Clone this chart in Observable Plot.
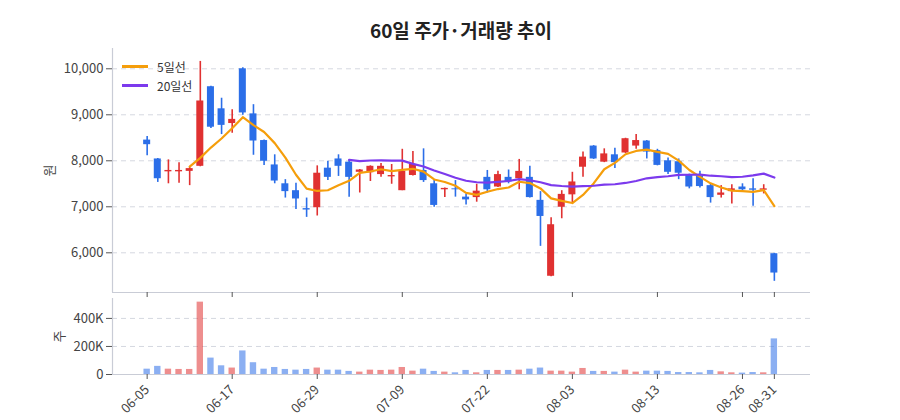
<!DOCTYPE html>
<html>
<head>
<meta charset="utf-8">
<script src="https://cdn.jsdelivr.net/npm/d3@7"></script>
<script src="https://cdn.jsdelivr.net/npm/@observablehq/plot@0.6"></script>
<style>
  html, body { margin: 0; padding: 0; background: #fff; }
  body { width: 900px; height: 420px; position: relative; overflow: hidden; font-family: "Noto Sans CJK KR", "Noto Sans", sans-serif; }
  #title { position: absolute; left: 11px; width: 900px; top: 16px; text-align: center; font-size: 19px; font-weight: 700; color: #222; }
  #price { position: absolute; left: 0; top: 40px; }
  #vol { position: absolute; left: 0; top: 295px; }
  .legend { position: absolute; left: 122px; font-size: 12px; color: #333; display: flex; align-items: center; }
  .legend span.sw { display: inline-block; width: 26px; height: 2.5px; margin-right: 9px; }
</style>
</head>
<body>
<div id="title">60일 주가·거래량 추이</div>
<div id="price"></div>
<div id="vol"></div>
<div class="legend" style="top:58px"><span class="sw" style="background:#f59e0b"></span>5일선</div>
<div class="legend" style="top:77px"><span class="sw" style="background:#7c3aed"></span>20일선</div>
<script>
const dates = ["06-05","06-08","06-09","06-10","06-11","06-12","06-15","06-16","06-17","06-18",
  "06-19","06-22","06-23","06-24","06-25","06-26","06-29","06-30","07-01","07-02",
  "07-03","07-06","07-07","07-08","07-09","07-10","07-13","07-14","07-15","07-16",
  "07-20","07-21","07-22","07-23","07-24","07-27","07-28","07-29","07-30","07-31",
  "08-03","08-04","08-05","08-06","08-07","08-10","08-11","08-12","08-13","08-14",
  "08-18","08-19","08-20","08-21","08-24","08-25","08-26","08-27","08-28","08-31"];
const open = [8450,8040,7760,7760,7770,7880,9610,9130,8810,10000,
  9020,8440,7910,7500,7350,6960,6980,7840,8040,7970,
  7750,7740,7700,7650,7350,7680,7790,7500,7370,7390,
  7210,7200,7640,7430,7640,7610,7640,7140,5490,6990,
  7260,7860,8320,7970,8130,8170,8320,8430,8220,8000,
  7980,7700,7660,7460,7250,7330,7430,7390,7360,5980];
const high = [8530,8050,8020,7960,7860,10160,9620,9360,9110,10020,
  9220,8450,8130,7590,7510,7190,7890,7990,8130,8010,
  7810,7890,7940,7920,8250,8200,8260,7570,7410,7570,
  7280,7490,7790,7770,7800,8030,7880,7330,6760,7350,
  7750,8190,8330,8260,8270,8490,8570,8440,8250,8060,
  8040,7710,7770,7500,7460,7480,7500,7610,7480,5990];
const low = [8110,7530,7500,7510,7460,7870,8700,8570,8600,8990,
  8120,7900,7500,7190,6940,6770,6800,7570,7660,7210,
  7300,7550,7640,7490,7350,7670,7530,6990,7200,7210,
  7040,7100,7300,7420,7500,7370,7190,6140,5480,6740,
  7070,7640,8030,7960,7830,8160,8250,8040,7890,7700,
  7590,7390,7410,7080,7190,7060,7320,7010,7280,5380];
const close = [8350,7610,7790,7790,7830,9300,8730,8770,8900,9040,
  8430,7990,7560,7330,7170,6930,7730,7640,7880,7640,
  7800,7880,7880,7680,7770,7920,7570,7030,7400,7370,
  7150,7340,7370,7700,7540,7770,7200,6790,6610,7270,
  7540,8080,8040,8150,7960,8480,8440,8190,7900,7750,
  7730,7430,7440,7200,7300,7390,7370,7360,7390,5560];
const volume = [38000,58000,38000,36000,36000,516000,117000,62000,46000,168000,
  84000,38000,50000,36000,31000,36000,46000,31000,31000,22000,
  17000,31000,29000,31000,50000,24000,38000,22000,17000,12000,
  29000,12000,29000,29000,29000,31000,38000,46000,24000,24000,
  17000,43000,22000,22000,17000,31000,17000,24000,24000,22000,
  14000,14000,12000,29000,19000,12000,10000,14000,12000,254000];
const priceTicks = [6000,7000,8000,9000,10000];
const volTicks = [0,200000,400000];
const xTickIdx = [0,8,16,24,32,40,48,56,59];

const RED = "#e03131", BLUE = "#2b6ee8";
const data = dates.map((d,i)=>({i, date:d, open:open[i], high:high[i], low:low[i], close:close[i], volume:volume[i],
  color: close[i] >= open[i] ? RED : BLUE}));
function ma(n){
  const out=[];
  for(let i=n-1;i<close.length;i++){
    let s=0; for(let k=i-n+1;k<=i;k++) s+=close[k];
    out.push({i, v:s/n});
  }
  return out;
}
const ma5 = ma(5), ma20 = ma(20);

const XD = [-3.26, 62.4];
const PD = [5137, 10441];
const VD = [0, 542000];
const font = '"Noto Sans CJK KR", "Noto Sans", sans-serif';
const axisCol = "#c9ccd6";

const price = Plot.plot({
  width: 900, height: 255,
  marginLeft: 112, marginRight: 90, marginTop: 8, marginBottom: 3,
  style: {fontFamily: font, fontSize: "12px", color: "#444", background: "transparent", overflow: "visible"},
  x: {domain: XD, axis: null},
  y: {domain: PD, axis: null},
  marks: [
    Plot.gridY(priceTicks, {stroke: "#d5d8e0", strokeOpacity: 1, strokeDasharray: "5,4"}),
    Plot.ruleX([XD[0]], {stroke: axisCol, strokeWidth: 1.2}),
    Plot.ruleY([PD[0]], {stroke: axisCol, strokeWidth: 1.2}),
    Plot.axisY(priceTicks, {anchor: "left", tickFormat: d3.format(","), tickSize: 6, tickPadding: 3,
      label: "원", labelAnchor: "center", labelOffset: 68, labelArrow: "none", stroke: "#555", fontSize: 13}),
    Plot.axisX(xTickIdx, {anchor: "bottom", tickSize: 5, tickFormat: () => "", label: null, stroke: "#555"}),
    Plot.ruleX(data, {x: "i", y1: "low", y2: "high", stroke: "color", strokeWidth: 1.6}),
    Plot.rect(data, {x1: d => d.i - 0.33, x2: d => d.i + 0.33, y1: "open", y2: "close", fill: "color"}),
    Plot.line(ma5, {x: "i", y: "v", stroke: "#f59e0b", strokeWidth: 2.2}),
    Plot.line(ma20, {x: "i", y: "v", stroke: "#7c3aed", strokeWidth: 2.2})
  ]
});
document.getElementById("price").appendChild(price);

const vol = Plot.plot({
  width: 900, height: 125,
  marginLeft: 112, marginRight: 90, marginTop: 3, marginBottom: 46,
  style: {fontFamily: font, fontSize: "12px", color: "#444", background: "transparent", overflow: "visible"},
  x: {domain: XD, axis: null},
  y: {domain: VD, axis: null},
  marks: [
    Plot.gridY([200000,400000], {stroke: "#d5d8e0", strokeOpacity: 1, strokeDasharray: "5,4"}),
    Plot.ruleX([XD[0]], {stroke: axisCol, strokeWidth: 1.2}),
    Plot.rect(data, {x1: d => d.i - 0.3, x2: d => d.i + 0.3, y1: 0, y2: "volume", fill: "color", fillOpacity: 0.55}),
    Plot.ruleY([0], {stroke: axisCol, strokeWidth: 1.2}),
    Plot.axisY(volTicks, {anchor: "left", tickFormat: d => d === 0 ? "0" : (d/1000) + "K", tickSize: 6, tickPadding: 3,
      label: "주", labelAnchor: "center", labelOffset: 58, labelArrow: "none", stroke: "#555", fontSize: 13}),
    Plot.axisX(xTickIdx, {anchor: "bottom", tickSize: 5, tickPadding: 8, tickRotate: -45, tickFormat: i => dates[i], label: null, stroke: "#555", fontSize: 13})
  ]
});
document.getElementById("vol").appendChild(vol);
</script>
</body>
</html>
